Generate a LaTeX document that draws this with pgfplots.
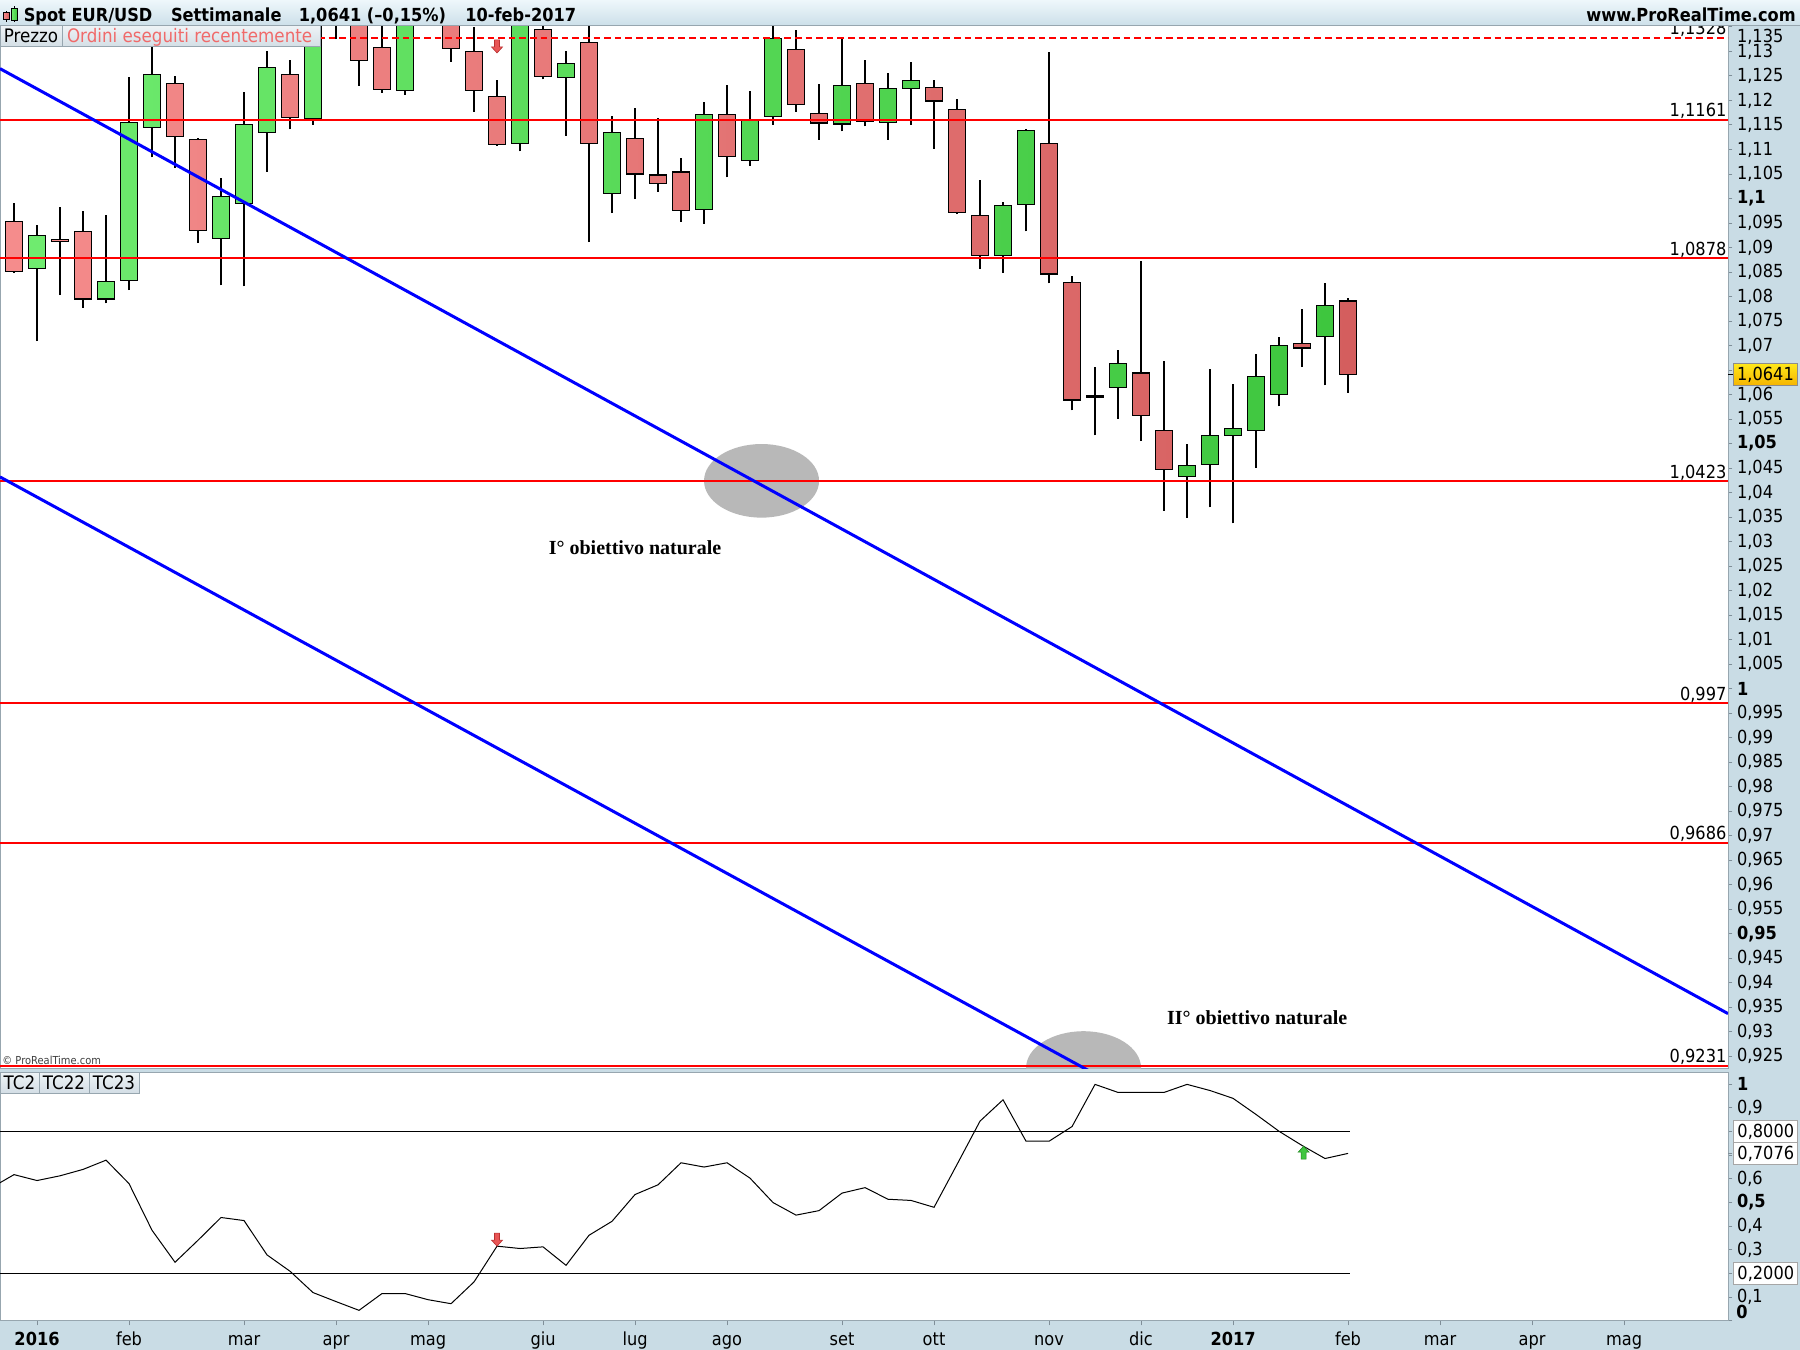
\documentclass[border=0pt]{standalone}
\usepackage{fontspec}
\setmainfont{DejaVu Sans}[FakeStretch=0.9]
\newfontfamily\timesf{Liberation Serif}
\usepackage{pgfplots}
\usepackage{pgfplotstable}
\pgfplotsset{compat=1.18}

\definecolor{band}{HTML}{C9DCE5}
\definecolor{frame}{HTML}{97A6AF}
\definecolor{tickgray}{HTML}{7F8E98}
\definecolor{ellgray}{HTML}{B8B8B8}
\definecolor{gl}{HTML}{6FEB6F}
\definecolor{gr}{HTML}{3EC63E}
\definecolor{rl}{HTML}{F58C8C}
\definecolor{rr}{HTML}{D45E5E}
\definecolor{ordini}{HTML}{F06A6A}
\definecolor{tbtop}{HTML}{EEF7FB}
\definecolor{tbbot}{HTML}{CCDFE9}
\definecolor{boxtop}{HTML}{EEF3F6}
\definecolor{boxbot}{HTML}{D3DEE5}
\definecolor{yel1}{HTML}{FFE81A}
\definecolor{yel2}{HTML}{F5B400}
\definecolor{arrred}{HTML}{E85555}
\definecolor{arrredd}{HTML}{B83030}
\definecolor{arrgreen}{HTML}{3FC63F}
\definecolor{arrgreend}{HTML}{1F861F}

\pgfdeclareplotmark{dnarrow}{%
 \pgfpathmoveto{\pgfqpoint{0pt}{0pt}}%
 \pgfpathlineto{\pgfqpoint{-2.75pt}{3pt}}%
 \pgfpathlineto{\pgfqpoint{-1.25pt}{3pt}}%
 \pgfpathlineto{\pgfqpoint{-1.25pt}{6.5pt}}%
 \pgfpathlineto{\pgfqpoint{1.25pt}{6.5pt}}%
 \pgfpathlineto{\pgfqpoint{1.25pt}{3pt}}%
 \pgfpathlineto{\pgfqpoint{2.75pt}{3pt}}%
 \pgfpathclose
 \pgfusepathqfillstroke}
\pgfdeclareplotmark{uparrow}{%
 \pgfpathmoveto{\pgfqpoint{0pt}{0pt}}%
 \pgfpathlineto{\pgfqpoint{-2.75pt}{-3pt}}%
 \pgfpathlineto{\pgfqpoint{-1.25pt}{-3pt}}%
 \pgfpathlineto{\pgfqpoint{-1.25pt}{-6.5pt}}%
 \pgfpathlineto{\pgfqpoint{1.25pt}{-6.5pt}}%
 \pgfpathlineto{\pgfqpoint{1.25pt}{-3pt}}%
 \pgfpathlineto{\pgfqpoint{2.75pt}{-3pt}}%
 \pgfpathclose
 \pgfusepathqfillstroke}

\pgfplotstableread{
i O H L C
0 1.0954 1.0991 1.0848 1.0852
1 1.0858 1.0946 1.0709 1.0924
2 1.0917 1.0983 1.0803 1.0913
3 1.0932 1.0975 1.0777 1.0795
4 1.0795 1.0967 1.0786 1.0830
5 1.0832 1.1248 1.0813 1.1155
6 1.1145 1.1310 1.1084 1.1253
7 1.1235 1.1250 1.1063 1.1127
8 1.1121 1.1124 1.0909 1.0934
9 1.0919 1.1042 1.0823 1.1005
10 1.0989 1.1217 1.0821 1.1151
11 1.1135 1.1300 1.1055 1.1268
12 1.1253 1.1283 1.1141 1.1166
13 1.1164 1.1413 1.1151 1.1390
14 1.1390 1.1438 1.1325 1.1399
15 1.1399 1.1465 1.1230 1.1282
16 1.1308 1.1398 1.1216 1.1223
17 1.1221 1.1465 1.1212 1.1454
18 1.1454 1.1616 1.1385 1.1404
19 1.1404 1.1445 1.1279 1.1306
20 1.1300 1.1350 1.1177 1.1221
21 1.1209 1.1242 1.1108 1.1110
22 1.1113 1.1375 1.1096 1.1367
23 1.1345 1.1416 1.1243 1.1249
24 1.1247 1.1301 1.1128 1.1276
25 1.1318 1.1428 1.0911 1.1113
26 1.1011 1.1168 1.0970 1.1135
27 1.1123 1.1185 1.0999 1.1050
28 1.1048 1.1164 1.1014 1.1031
29 1.1054 1.1083 1.0953 1.0976
30 1.0978 1.1196 1.0949 1.1172
31 1.1172 1.1232 1.1043 1.1086
32 1.1078 1.1219 1.1067 1.1161
33 1.1168 1.1366 1.1151 1.1326
34 1.1304 1.1343 1.1177 1.1192
35 1.1174 1.1234 1.1120 1.1154
36 1.1152 1.1327 1.1137 1.1231
37 1.1235 1.1283 1.1147 1.1157
38 1.1156 1.1256 1.1120 1.1225
39 1.1225 1.1278 1.1151 1.1241
40 1.1227 1.1242 1.1102 1.1199
41 1.1181 1.1203 1.0968 1.0971
42 1.0966 1.1038 1.0857 1.0883
43 1.0883 1.0992 1.0849 1.0985
44 1.0987 1.1141 1.0933 1.1138
45 1.1113 1.1299 1.0827 1.0846
46 1.0829 1.0841 1.0568 1.0589
47 1.0599 1.0656 1.0517 1.0595
48 1.0614 1.0690 1.0551 1.0664
49 1.0644 1.0873 1.0505 1.0558
50 1.0527 1.0669 1.0363 1.0448
51 1.0432 1.0500 1.0349 1.0456
52 1.0458 1.0653 1.0370 1.0517
53 1.0517 1.0622 1.0337 1.0531
54 1.0527 1.0683 1.0451 1.0637
55 1.0601 1.0718 1.0576 1.0701
56 1.0705 1.0775 1.0656 1.0695
57 1.0718 1.0827 1.0619 1.0782
58 1.0791 1.0797 1.0604 1.0641
}\candles

\pgfplotstableread{
i v
-1 0.562
0 0.618
1 0.593
2 0.613
3 0.640
4 0.679
5 0.580
6 0.383
7 0.248
8 0.341
9 0.437
10 0.424
11 0.279
12 0.210
13 0.120
14 0.082
15 0.045
16 0.116
17 0.116
18 0.090
19 0.073
20 0.165
21 0.316
22 0.306
23 0.313
24 0.235
25 0.362
26 0.421
27 0.534
28 0.575
29 0.668
30 0.650
31 0.668
32 0.603
33 0.500
34 0.447
35 0.466
36 0.540
37 0.563
38 0.514
39 0.509
40 0.480
41 0.661
42 0.844
43 0.934
44 0.759
45 0.759
46 0.821
47 0.999
48 0.965
49 0.965
50 0.965
51 0.999
52 0.973
53 0.940
54 0.872
55 0.801
56 0.741
57 0.686
58 0.7076
}\osc

\newcommand\tfont{\fontsize{9}{10}\selectfont}

\begin{document}
\begin{tikzpicture}
\useasboundingbox (0,0) rectangle (900pt,675pt);
\fill[band] (0,0) rectangle (900pt,675pt);

% ---------- main panel: background, ticks, ellipses, wicks
\begin{axis}[
  at={(0pt,140.5pt)}, anchor=south west, scale only axis,
  width=864pt, height=521.5pt,
  xmin=-0.61, xmax=74.52, ymin=0.9224, ymax=1.1352,
  axis background/.style={fill=white},
  axis line style={draw=frame, line width=0.5pt},
  xtick=\empty,
  ytick pos=right, yticklabel pos=right,
  tick align=outside, major tick length=2.2pt,
  tick style={draw=tickgray, line width=0.5pt},
  ytick={0.925,0.93,0.935,0.94,0.945,0.95,0.955,0.96,0.965,0.97,0.975,0.98,0.985,0.99,0.995,1,1.005,1.01,1.015,1.02,1.025,1.03,1.035,1.04,1.045,1.05,1.055,1.06,1.065,1.07,1.075,1.08,1.085,1.09,1.095,1.1,1.105,1.11,1.115,1.12,1.125,1.13,1.135},
  yticklabels={{0,925},{0,93},{0,935},{0,94},{0,945},{\textbf{0,95}},{0,955},{0,96},{0,965},{0,97},{0,975},{0,98},{0,985},{0,99},{0,995},{\textbf{1}},{1,005},{1,01},{1,015},{1,02},{1,025},{1,03},{1,035},{1,04},{1,045},{\textbf{1,05}},{1,055},{1,06},{},{1,07},{1,075},{1,08},{1,085},{1,09},{1,095},{\textbf{1,1}},{1,105},{1,11},{1,115},{1,12},{1,125},{1,13},{}},
  yticklabel style={anchor=west, inner sep=0pt, xshift=2.1pt, font=\tfont},
]
\fill[ellgray] (axis cs:32.5,1.0424) ellipse [x radius=28.75pt, y radius=18.4pt];
\fill[ellgray] (axis cs:46.5,0.9226) ellipse [x radius=28.75pt, y radius=18.4pt];
\addplot[draw=none, mark=none, forget plot,
  error bars/.cd, y dir=plus, y explicit, error mark=none,
  error bar style={draw=black, solid, line width=0.6pt}]
  table[x=i, y=L, y error expr=\thisrow{H}-\thisrow{L}] {\candles};
\end{axis}

% ---------- candle bodies
\begin{axis}[
  at={(0pt,140.5pt)}, anchor=south west, scale only axis,
  width=864pt, height=521.5pt,
  xmin=-0.61, xmax=74.52, ymin=0.9224, ymax=1.1352,
  hide axis, ybar stacked, bar width=8.2pt,
]
\addplot[draw=none, fill=none] table[x=i, y expr={min(\thisrow{O},\thisrow{C})}] {\candles};
\addplot[draw=black, line width=0.55pt, left color=rl, right color=rr] table[x=i, y expr={max(\thisrow{O}-\thisrow{C},0)}] {\candles};
\addplot[draw=black, line width=0.55pt, left color=gl, right color=gr] table[x=i, y expr={max(\thisrow{C}-\thisrow{O},0)}] {\candles};
\end{axis}

% ---------- levels, trend lines, texts
\begin{axis}[
  at={(0pt,140.5pt)}, anchor=south west, scale only axis,
  width=864pt, height=521.5pt,
  xmin=-0.61, xmax=74.52, ymin=0.9224, ymax=1.1352,
  hide axis,
]
\addplot[red, line width=1pt, dash pattern=on 3.3pt off 2pt] coordinates {(-0.61,1.1328) (74.52,1.1328)};
\addplot[red, line width=1pt] coordinates {(-0.61,1.1161) (74.52,1.1161)};
\addplot[red, line width=1pt] coordinates {(-0.61,1.0878) (74.52,1.0878)};
\addplot[red, line width=1pt] coordinates {(-0.61,1.0423) (74.52,1.0423)};
\addplot[red, line width=1pt] coordinates {(-0.61,0.997) (74.52,0.997)};
\addplot[red, line width=1pt] coordinates {(-0.61,0.9686) (74.52,0.9686)};
\addplot[red, line width=1pt] coordinates {(-0.61,0.9231) (74.52,0.9231)};
\addplot[blue, line width=1.5pt] coordinates {(-0.61,1.1265) (74.52,0.9337)};
\addplot[blue, line width=1.5pt] coordinates {(-0.61,1.0432) (48,0.9188)};
\addplot[only marks, mark=dnarrow, mark options={fill=arrred, draw=arrredd, line width=0.3pt}] coordinates {(21,1.1297)};
\node[anchor=base east, inner sep=0pt, font=\tfont, yshift=1.6pt, xshift=-0.6pt] at (axis cs:74.52,1.1328) {1,1328};
\node[anchor=base east, inner sep=0pt, font=\tfont, yshift=1.6pt, xshift=-0.6pt] at (axis cs:74.52,1.1161) {1,1161};
\node[anchor=base east, inner sep=0pt, font=\tfont, yshift=1.6pt, xshift=-0.6pt] at (axis cs:74.52,1.0878) {1,0878};
\node[anchor=base east, inner sep=0pt, font=\tfont, yshift=1.6pt, xshift=-0.6pt] at (axis cs:74.52,1.0423) {1,0423};
\node[anchor=base east, inner sep=0pt, font=\tfont, yshift=1.6pt, xshift=-0.6pt] at (axis cs:74.52,0.997) {0,997};
\node[anchor=base east, inner sep=0pt, font=\tfont, yshift=1.6pt, xshift=-0.6pt] at (axis cs:74.52,0.9686) {0,9686};
\node[anchor=base east, inner sep=0pt, font=\tfont, yshift=1.6pt, xshift=-0.6pt] at (axis cs:74.52,0.9231) {0,9231};
\node[anchor=base, font=\timesf\bfseries\fontsize{10}{12}\selectfont] at (axis cs:27.0,1.0273) {I° obiettivo naturale};
\node[anchor=base, font=\timesf\bfseries\fontsize{10}{12}\selectfont] at (axis cs:54.05,0.9314) {II° obiettivo naturale};
\end{axis}

% ---------- lower panel
\begin{axis}[
  at={(0pt,14.5pt)}, anchor=south west, scale only axis,
  width=864pt, height=124.35pt,
  xmin=-0.61, xmax=74.52, ymin=0, ymax=1.05,
  axis background/.style={fill=white},
  axis line style={draw=frame, line width=0.5pt},
  tick align=outside, major tick length=2.2pt,
  tick style={draw=tickgray, line width=0.5pt},
  xtick pos=left,
  xtick={1,5,10,14,18,23,27,31,36,40,45,49,53,58,62,66,70},
  xticklabels={\textbf{2016},feb,mar,apr,mag,giu,lug,ago,set,ott,nov,dic,\textbf{2017},feb,mar,apr,mag},
  xticklabel style={anchor=base, inner sep=0pt, yshift=-10pt, font=\tfont},
  ytick pos=right, yticklabel pos=right,
  ytick={0,0.1,0.2,0.3,0.4,0.5,0.6,0.7,0.8,0.9,1},
  yticklabels={{},{0,1},{},{0,3},{0,4},{\textbf{0,5}},{0,6},{},{},{0,9},{\textbf{1}}},
  extra y ticks={0.7076}, extra y tick labels={},
  yticklabel style={anchor=west, inner sep=0pt, xshift=2.1pt, font=\tfont},
]
\addplot[black, line width=0.6pt] coordinates {(-0.61,0.8) (58.07,0.8)};
\addplot[black, line width=0.6pt] coordinates {(-0.61,0.2) (58.07,0.2)};
\addplot[black, line width=0.5pt, mark=none] table[x=i, y=v] {\osc};
\addplot[only marks, mark=dnarrow, mark options={fill=arrred, draw=arrredd, line width=0.3pt}] coordinates {(21,0.316)};
\addplot[only marks, mark=uparrow, mark options={fill=arrgreen, draw=arrgreend, line width=0.3pt}] coordinates {(56.07,0.738)};
\end{axis}

% ---------- overlays
\node[anchor=base west, inner sep=0pt, text=black!75, font=\fontsize{5.5}{6}\selectfont] at (1pt,142.8pt) {© ProRealTime.com};
\path[draw=frame, line width=0.5pt, top color=boxtop, bottom color=boxbot] (0,651.5pt) rectangle (31.3pt,662pt);
\path[draw=frame, line width=0.5pt, top color=boxtop, bottom color=boxbot] (31.3pt,651.5pt) rectangle (160pt,662pt);
\node[anchor=base west, inner sep=0pt, font=\fontsize{9.3}{10}\selectfont] at (1.7pt,653.6pt) {Prezzo};
\node[anchor=base west, inner sep=0pt, text=ordini, font=\fontsize{9.3}{10}\selectfont] at (33.3pt,653.6pt) {Ordini eseguiti recentemente};
\path[draw=frame, line width=0.5pt, top color=boxtop, bottom color=boxbot] (0,128.35pt) rectangle (19.5pt,138.65pt);
\path[draw=frame, line width=0.5pt, top color=boxtop, bottom color=boxbot] (19.5pt,128.35pt) rectangle (44.5pt,138.65pt);
\path[draw=frame, line width=0.5pt, top color=boxtop, bottom color=boxbot] (44.5pt,128.35pt) rectangle (69.5pt,138.65pt);
\node[anchor=base, inner sep=0pt, font=\fontsize{9.3}{10}\selectfont] at (9.75pt,130.3pt) {TC2};
\node[anchor=base, inner sep=0pt, font=\fontsize{9.3}{10}\selectfont] at (32pt,130.3pt) {TC22};
\node[anchor=base, inner sep=0pt, font=\fontsize{9.3}{10}\selectfont] at (57pt,130.3pt) {TC23};
\node[anchor=west, inner sep=0pt, font=\tfont] at (868.3pt,656.35pt) {1,135};
\draw[black, line width=0.6pt] (864pt,487.76pt) -- (866.5pt,487.76pt);
\node[anchor=west, draw=black!45, line width=0.5pt, top color=yel1, bottom color=yel2, minimum width=32pt, minimum height=11pt, inner sep=1pt, font=\tfont] at (866.5pt,487.76pt) {1,0641};
\node[anchor=west, draw=black!35, line width=0.5pt, fill=white, minimum width=32pt, minimum height=10.8pt, inner sep=1pt, font=\tfont] at (866.65pt,109.24pt) {0,8000};
\node[anchor=west, draw=black!35, line width=0.5pt, fill=white, minimum width=32pt, minimum height=10.8pt, inner sep=1pt, font=\tfont] at (866.65pt,98.3pt) {0,7076};
\node[anchor=west, draw=black!35, line width=0.5pt, fill=white, minimum width=32pt, minimum height=10.8pt, inner sep=1pt, font=\tfont] at (866.65pt,38.19pt) {0,2000};
\node[anchor=west, inner sep=0pt, font=\tfont\bfseries] at (868pt,19.15pt) {0};
\shade[top color=tbtop, bottom color=tbbot] (0,662pt) rectangle (900pt,675pt);
\draw[frame, line width=0.5pt] (0,662pt) -- (900pt,662pt);
\draw[black, line width=0.3pt] (3.15pt,664.2pt) -- (3.15pt,669.5pt);
\path[draw=black, line width=0.3pt, left color=rl, right color=rr] (1.65pt,665.35pt) rectangle (4.65pt,668.65pt);
\draw[black, line width=0.3pt] (7.25pt,664.2pt) -- (7.25pt,672pt);
\path[draw=black, line width=0.3pt, left color=gl, right color=gr] (5.85pt,665pt) rectangle (8.65pt,670.85pt);
\node[anchor=base west, inner sep=0pt, font=\fontsize{9}{10}\selectfont\bfseries] at (11.7pt,664.15pt) {Spot EUR/USD};
\node[anchor=base west, inner sep=0pt, font=\fontsize{9}{10}\selectfont\bfseries] at (85.3pt,664.15pt) {Settimanale};
\node[anchor=base west, inner sep=0pt, font=\fontsize{9}{10}\selectfont\bfseries] at (149.2pt,664.15pt) {1,0641 (–0,15\%)};
\node[anchor=base west, inner sep=0pt, font=\fontsize{9}{10}\selectfont\bfseries] at (232.5pt,664.15pt) {10-feb-2017};
\node[anchor=base east, inner sep=0pt, font=\fontsize{9}{10}\selectfont\bfseries] at (898pt,664.15pt) {www.ProRealTime.com};
\end{tikzpicture}
\end{document}
